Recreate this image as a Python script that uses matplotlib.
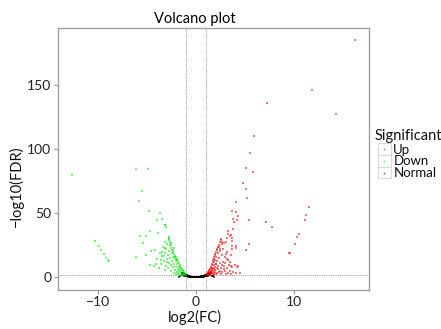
import matplotlib
matplotlib.use("Agg")
import matplotlib.pyplot as plt
import matplotlib.patches as patches
from matplotlib.lines import Line2D

plt.rcParams['font.family'] = ['Lato', 'DejaVu Sans']

# --- data (log2 fold change, -log10 FDR) ---
up_x = [16.26, 11.86, 7.29, 14.30, 5.90, 5.53, 5.16, 5.87, 4.79, 5.16, 5.26, 4.11, 11.59,
        3.70, 4.11, 4.25, 11.28, 11.11, 3.74, 4.18, 5.40, 3.87, 7.12, 7.76, 3.80, 10.54,
        10.37, 3.57, 3.67, 10.07, 5.40, 3.67, 4.11, 5.09, 9.56, 9.50, 3.54, 3.67, 4.35,
        3.23, 3.29, 3.19, 3.44, 2.52, 2.69, 2.62, 3.09, 2.86, 3.70, 3.64, 4.05, 2.35, 2.45,
        3.16, 2.96, 3.13, 3.26, 3.47, 3.57, 3.97, 4.15, 2.08, 2.62, 2.28, 2.89, 2.45,
        # dense wedge edge
        1.05, 1.10, 1.15, 1.20, 1.27, 1.32, 1.38, 1.44, 1.50, 1.55, 1.61, 1.67, 1.72, 1.77,
        1.83, 1.88, 1.94, 2.00, 2.06, 2.12, 2.20, 2.28, 2.36, 2.45, 2.55,
        # wedge fill
        1.20, 1.30, 1.35, 1.40, 1.45, 1.50, 1.55, 1.60, 1.65, 1.70, 1.70, 1.75, 1.80, 1.80,
        1.85, 1.90, 1.90, 1.95, 2.00, 2.00, 2.05, 2.10, 2.10, 2.15, 2.20, 2.20, 2.25, 2.30,
        2.35, 2.40, 2.45, 2.50, 2.55, 2.60, 2.65, 2.70, 2.75, 2.80, 2.85, 2.95, 3.00, 3.05,
        3.10, 3.20, 3.30, 3.35, 3.50, 3.60, 3.80, 4.05, 4.55, 2.00, 1.60, 1.40]
up_y = [184.4, 145.4, 136.0, 126.7, 110.3, 96.7, 85.3, 82.2, 73.3, 69.0, 61.4, 58.8, 54.6,
        51.5, 50.7, 47.6, 48.4, 44.2, 45.2, 44.5, 44.2, 42.7, 42.9, 39.3, 37.7, 33.3,
        31.2, 32.5, 30.4, 26.0, 25.5, 22.1, 22.9, 20.8, 19.0, 18.9, 17.3, 7.8, 8.6,
        35.6, 33.8, 30.4, 31.7, 28.6, 27.3, 25.7, 27.3, 26.5, 28.1, 24.0, 24.2, 23.4, 22.1,
        19.5, 15.6, 14.4, 13.0, 11.5, 8.9, 9.7, 7.8, 10.5, 9.1, 6.6, 6.2, 4.7,
        1.5, 2.2, 2.8, 3.4, 3.9, 4.6, 5.5, 6.6, 7.4, 8.2, 9.1, 10.5, 11.8, 13.0,
        14.4, 15.6, 16.9, 18.2, 19.5, 20.8, 22.0, 23.4, 25.0, 27.3, 29.5,
        1.6, 2.0, 2.8, 1.8, 3.5, 2.5, 4.8, 3.2, 6.0, 2.4, 7.5, 4.5, 9.8, 2.0,
        6.2, 11.5, 3.6, 8.0, 13.5, 5.2, 2.6, 10.0, 16.0, 6.8, 3.0, 12.5, 18.5, 8.8,
        4.2, 14.8, 20.5, 11.0, 2.2, 6.9, 17.0, 3.8, 12.0, 22.0, 8.5, 4.5, 11.0, 17.8,
        2.8, 6.8, 3.5, 9.5, 5.0, 2.5, 4.2, 3.0, 3.6, 3.8, 5.5, 4.0]

down_x = [-12.68, -6.08, -4.93, -5.54, -5.80, -4.83, -3.61, -3.44, -3.94, -3.10, -3.08,
          -4.65, -3.87, -5.74, -5.06, -2.73, -2.75, -2.78, -5.40, -10.34, -9.90, -9.66,
          -9.40, -9.15, -8.99, -8.82, -6.14, -5.06, -4.55, -4.70, -4.30, -4.08, -3.50,
          -3.13, -2.52, -2.29, -3.30, -3.51, -2.90, -2.12, -1.94, -3.10,
          # dense wedge edge
          -1.05, -1.10, -1.16, -1.22, -1.28, -1.35, -1.42, -1.50, -1.57, -1.64, -1.72,
          -1.80, -1.88, -1.96, -2.05, -2.15, -2.25, -2.35, -2.45, -2.55, -2.62, -2.68, -2.72,
          # wedge fill
          -1.20, -1.30, -1.40, -1.45, -1.50, -1.60, -1.60, -1.70, -1.75, -1.80, -1.85,
          -1.90, -1.95, -2.00, -2.00, -2.10, -2.10, -2.20, -2.25, -2.30, -2.30, -2.40,
          -2.45, -2.50, -2.55, -2.60, -2.70, -2.75, -2.80, -2.85, -2.95, -3.00, -3.05,
          -3.15, -3.20, -3.30, -3.40, -3.45, -3.60, -3.70, -3.80, -4.00, -4.20, -2.25,
          -2.50, -2.90, -3.20, -1.55, -2.00]
down_y = [79.9, 84.6, 84.6, 66.8, 59.3, 51.5, 49.9, 45.6, 44.5, 40.6, 38.8,
          35.9, 34.1, 32.3, 31.7, 31.5, 29.2, 30.3, 26.5, 28.4, 24.0, 20.8,
          17.9, 15.1, 13.6, 12.2, 15.6, 16.9, 20.6, 9.1, 8.6, 9.9, 19.3,
          22.6, 24.7, 20.8, 16.1, 13.0, 11.5, 15.6, 13.0, 40.9,
          1.5, 2.3, 3.0, 3.8, 4.5, 5.4, 6.4, 7.5, 8.5, 9.6, 10.8,
          12.0, 13.2, 14.4, 15.6, 16.8, 18.0, 19.6, 21.2, 23.0, 25.0, 27.5, 29.5,
          1.8, 2.5, 3.2, 1.9, 4.6, 3.0, 6.2, 4.8, 8.0, 2.4, 6.5,
          10.0, 3.8, 8.2, 12.2, 5.5, 14.0, 10.2, 3.0, 7.6, 15.8, 12.5,
          18.5, 5.0, 9.5, 14.8, 20.5, 11.0, 7.0, 17.0, 13.8, 22.0, 9.0,
          18.8, 5.2, 12.2, 23.5, 16.5, 10.5, 19.0, 6.8, 13.8, 21.0, 22.5,
          26.5, 25.5, 27.5, 1.6, 2.2]

normal_x = [-1.45, -1.40, -1.35, -1.30, -1.25, -1.20, -1.15, -1.10, -1.05, -1.00, -0.95,
            -0.90, -0.85, -0.80, -0.75, -0.70, -0.65, -0.60, -0.55, -0.50, -0.45, -0.40,
            -0.35, -0.30, -0.25, -0.20, -0.15, -0.10, -0.05, 0.00, 0.05, 0.10, 0.15, 0.20,
            0.25, 0.30, 0.35, 0.40, 0.45, 0.50, 0.55, 0.60, 0.65, 0.70, 0.75, 0.80, 0.85,
            0.90, 0.95, 1.00, 1.05, 1.10, 1.15, 1.20, 1.25, 1.30, 1.35, 1.40, 1.45, 1.50,
            -1.42, -1.32, -1.22, -1.12, -1.02, -0.92, -0.82, -0.72, -0.62, -0.52, -0.42,
            -0.32, -0.22, -0.12, 0.12, 0.22, 0.32, 0.42, 0.52, 0.62, 0.72, 0.82, 0.92,
            1.02, 1.12, 1.22, 1.32, 1.42, -1.60, -1.70, 1.60, 1.75, 1.90]
normal_y = [3.6, 3.3, 3.1, 2.9, 2.7, 2.5, 2.3, 2.1, 1.9, 1.8, 1.6,
            1.4, 1.25, 1.1, 1.0, 0.85, 0.75, 0.65, 0.55, 0.45, 0.38, 0.30,
            0.24, 0.18, 0.13, 0.09, 0.06, 0.03, 0.01, 0.0, 0.01, 0.03, 0.06, 0.09,
            0.13, 0.18, 0.24, 0.30, 0.38, 0.45, 0.55, 0.65, 0.75, 0.85, 1.0, 1.1, 1.25,
            1.4, 1.6, 1.8, 1.9, 2.1, 2.3, 2.5, 2.7, 2.9, 3.1, 3.3, 3.6, 3.8,
            1.6, 1.4, 1.2, 1.0, 0.8, 0.6, 0.45, 0.3, 0.2, 0.12, 0.06,
            0.03, 0.01, 0.0, 0.0, 0.01, 0.03, 0.06, 0.12, 0.2, 0.3, 0.45, 0.6,
            0.8, 1.0, 1.2, 1.4, 1.6, 0.8, 0.5, 0.9, 0.6, 0.4]

fdr_line = 1.3
fc_lines = [-1, 1]
x_ticks = [-10, 0, 10]
y_ticks = [0, 50, 100, 150]
legend_labels = ["Up", "Down", "Normal"]
colors = {"Up": "#FF0000", "Down": "#00F000", "Normal": "#000000"}

W, H = 441, 329
def fx(px):
    return px / W
def fy(py):
    return 1 - py / H

fig = plt.figure(figsize=(W / 100, H / 100), dpi=100)
ax = fig.add_axes([fx(57.7), fy(290), fx(369.3) - fx(57.7), fy(28.3) - fy(290)])

ax.scatter(normal_x, normal_y, s=4, marker='s', c=colors["Normal"], alpha=0.6, linewidths=0, zorder=3)
ax.scatter(down_x, down_y, s=3.5, marker='s', c=colors["Down"], alpha=0.55, linewidths=0, zorder=3)
ax.scatter(up_x, up_y, s=3.5, marker='s', c=colors["Up"], alpha=0.55, linewidths=0, zorder=3)

for v in fc_lines:
    ax.axvline(v, color='#9a9a9a', lw=0.6, ls=(0, (1.5, 1.2)), zorder=2)
ax.axhline(fdr_line, color='#9a9a9a', lw=0.6, ls=(0, (1.5, 1.2)), zorder=2)

ax.set_xlim(-14.1, 17.7)
ax.set_ylim(-10.0, 193.8)
ax.set_xticks(x_ticks)
ax.set_xticklabels(["\u221210", "0", "10"])
ax.set_yticks(y_ticks)
ax.tick_params(length=3, width=0.8, color='#9a9a9a', labelsize=10, labelcolor='#222222', pad=1.5)
for sp in ax.spines.values():
    sp.set_color('#a0a0a0')
    sp.set_linewidth(1.0)

fig.text(fx(194.5), fy(19), "Volcano plot", ha='center', va='center', fontsize=10.5, color='black')
fig.text(fx(194.5), fy(317), "log2(FC)", ha='center', va='center', fontsize=10.5, color='#111111')
fig.text(fx(16.7), fy(186.7), "\u2212log10(FDR)", ha='center', va='center', rotation=90,
         fontsize=10.5, color='#111111')

# legend drawn by hand
fig.text(fx(375), fy(136), "Significant", ha='left', va='center', fontsize=10.5, color='#111111')
row_tops = [143.3, 155.0, 166.7]
for lab, top in zip(legend_labels, row_tops):
    box = patches.Rectangle((fx(377.7), fy(top + 11.7)), fx(13), 11.7 / H,
                            transform=fig.transFigure, facecolor='white',
                            edgecolor='#d8d8d8', lw=0.8)
    fig.add_artist(box)
    fig.add_artist(Line2D([fx(384.2)], [fy(top + 5.85)], marker='s', ms=1.2, mew=0,
                          color=colors[lab], alpha=0.6, transform=fig.transFigure))
    fig.text(fx(393.3), fy(top + 6.2), lab, ha='left', va='center', fontsize=9.5, color='#111111')

fig.savefig("out.png", dpi=100)
